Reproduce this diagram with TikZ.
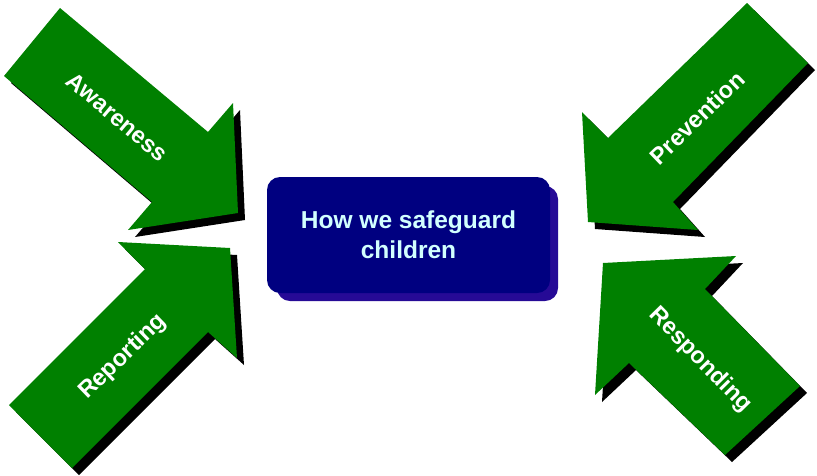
\documentclass[tikz,border=0pt]{standalone}
\usepackage{fontspec}
\setmainfont{Liberation Sans}
\definecolor{arrowgreen}{RGB}{0,128,0}
\definecolor{boxnavy}{RGB}{0,0,128}
\definecolor{boxback}{RGB}{38,10,150}
\definecolor{boxtext}{RGB}{210,255,255}
\begin{document}
\begin{tikzpicture}[x=1pt,y=-1pt,
  arrowbody/.style={fill=arrowgreen},
  arrowshadow/.style={fill=black, shift={(7,7)}},
  arrowlabel/.style={text=white, font=\bfseries\fontsize{23.5}{25}\selectfont, inner sep=0pt},
  centerbox/.style={fill=boxnavy, rounded corners=13pt, minimum width=283pt, minimum height=116pt, text=boxtext, align=center, font=\bfseries\fontsize{24.5}{30}\selectfont},
  centerback/.style={fill=boxback, rounded corners=13pt, minimum width=281pt, minimum height=115pt}]
\useasboundingbox (0,0) rectangle (817,475);
% Awareness
\def\awarepath{(60,8) -- (208,132) -- (233,103) -- (238,213) -- (128,230) -- (152,202) -- (4,76) -- cycle}
\fill[arrowshadow] \awarepath;
\fill[arrowbody] \awarepath;
% Reporting
\def\reportpath{(9,405) -- (145,269) -- (118,242) -- (230,248) -- (237,358) -- (208,332) -- (72,468) -- cycle}
\fill[arrowshadow] \reportpath;
\fill[arrowbody] \reportpath;
% Prevention
\def\prevpath{(747,3) -- (808,63) -- (673,202) -- (698,230) -- (588,222) -- (582,112) -- (608,138) -- cycle}
\fill[arrowshadow] \prevpath;
\fill[arrowbody] \prevpath;
% Responding
\def\resppath{(603,263) -- (736,256) -- (705,289) -- (800,386) -- (725,455) -- (629,363) -- (595,395) -- cycle}
\fill[arrowshadow] \resppath;
\fill[arrowbody] \resppath;
% labels
\node[arrowlabel, rotate=-40] (aware) at (117,117) {Awareness};
\node[arrowlabel, rotate=44] (report) at (123,357) {Reporting};
\node[arrowlabel, rotate=44] (prev) at (697,118) {Prevention};
\node[arrowlabel, rotate=-45.5] (resp) at (700,360) {Responding};
% centre box
\node[centerback] (back) at (417.5,243.5) {};
\node[centerbox] (centre) at (408.5,235) {How we safeguard\\children};
\end{tikzpicture}
\end{document}
